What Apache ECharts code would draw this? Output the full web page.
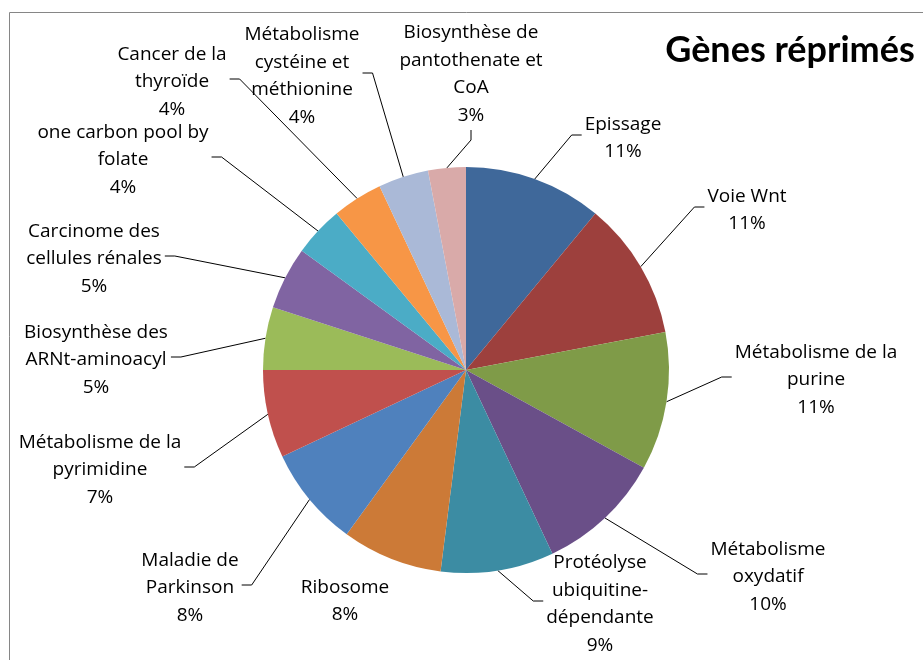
<!DOCTYPE html>
<html>
<head>
<meta charset="utf-8">
<script src="https://cdn.jsdelivr.net/npm/echarts@6/dist/echarts.min.js"></script>
<style>
  html, body { margin: 0; padding: 0; background: #ffffff; }
  #chart { width: 923px; height: 660px; }
</style>
</head>
<body>
<div id="chart"></div>
<script>
// Pathways of the repressed genes, share of genes in each (%)
const categories = [
  'Epissage',
  'Voie Wnt',
  'Métabolisme de la\npurine',
  'Métabolisme\noxydatif',
  'Protéolyse\nubiquitine-\ndépendante',
  'Ribosome',
  'Maladie de\nParkinson',
  'Métabolisme de la\npyrimidine',
  'Biosynthèse des\nARNt-aminoacyl',
  'Carcinome des\ncellules rénales',
  'one carbon pool by\nfolate',
  'Cancer de la\nthyroïde',
  'Métabolisme\ncystéine et\nméthionine',
  'Biosynthèse de\npantothenate et\nCoA'
];
const shares = [11, 11, 11, 10, 9, 8, 8, 7, 5, 5, 4, 4, 4, 3];

const sliceColors = [
  '#3f689a', '#9d403d', '#7f9b48', '#6a4f88', '#3c8ca3', '#cc7a37',
  '#4f81bd', '#c0504d', '#9bbb59', '#8064a2', '#4bacc6', '#f79646',
  '#aab9d7', '#d9aaa9'
];

// Where each label block sits (centre), and how its leader attaches
const labelSpots = [
  [623, 138], [747, 210], [816, 380], [768, 577], [600, 604], [345, 601],
  [190, 588], [100, 470], [96, 360], [94, 259], [123, 160], [172, 82],
  [302, 76], [471, 74]
];
const leaderFromBottom = [false, false, false, false, false, false,
  false, false, false, false, false, false, false, true];
const noLeader = [false, false, false, false, false, true,
  false, false, false, false, false, false, false, false];

const chart = echarts.init(document.getElementById('chart'), null, { renderer: 'canvas' });

const pieData = categories.map(function (name, i) {
  return {
    name: name,
    value: shares[i],
    itemStyle: { color: sliceColors[i] },
    labelLine: { show: !noLeader[i] }
  };
});

chart.setOption({
  animation: false,
  backgroundColor: '#ffffff',
  graphic: [
    {
      type: 'rect',
      shape: { x: 9.5, y: 12.5, width: 1200, height: 1200 },
      style: { fill: 'none', stroke: '#868686', lineWidth: 1 },
      silent: true
    },
    {
      type: 'text',
      x: 790,
      y: 50,
      style: {
        text: 'Gènes réprimés',
        font: 'bold 36px Lato',
        fill: '#000000',
        textAlign: 'center',
        textVerticalAlign: 'middle'
      },
      silent: true
    }
  ],
  series: [{
    type: 'pie',
    center: [466, 370],
    radius: 203,
    startAngle: 90,
    clockwise: true,
    avoidLabelOverlap: false,
    percentPrecision: 0,
    silent: true,
    itemStyle: { borderWidth: 0 },
    emphasis: { disabled: true },
    label: {
      show: true,
      position: 'outer',
      formatter: '{b}\n{d}%',
      fontFamily: 'Open Sans',
      fontSize: 19,
      lineHeight: 27.5,
      color: '#000000'
    },
    labelLine: {
      show: true,
      length: 20,
      length2: 10,
      smooth: false,
      lineStyle: { color: '#000000', width: 1 }
    },
    labelLayout: function (p) {
      const i = p.dataIndex;
      const spot = labelSpots[i];
      const w = p.labelRect.width;
      const h = p.labelRect.height;
      const out = { x: spot[0], y: spot[1], align: 'center', verticalAlign: 'middle' };
      const pts = p.labelLinePoints;
      if (!pts || !pts.length) { return out; }
      const edge = [pts[0][0], pts[0][1]];
      const ay = spot[1] - 3;
      let tip, bend;
      if (leaderFromBottom[i]) {
        tip = [spot[0], spot[1] + h / 2 + 1];
        bend = [spot[0], tip[1] + 10];
      } else if (spot[0] > edge[0]) {
        tip = [spot[0] - w / 2 - 3, ay];
        bend = [tip[0] - 10, ay];
      } else {
        tip = [spot[0] + w / 2 + 3, ay];
        bend = [tip[0] + 10, ay];
      }
      out.labelLinePoints = [edge, bend, tip];
      return out;
    },
    data: pieData
  }]
});
</script>
</body>
</html>
